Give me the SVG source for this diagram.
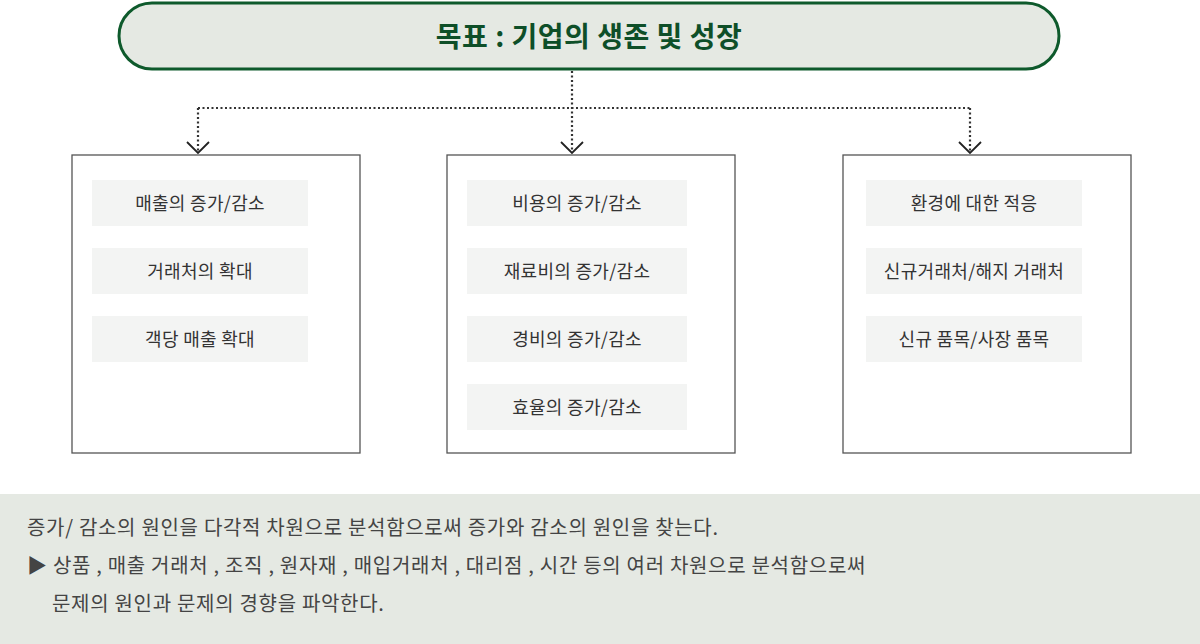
<svg xmlns="http://www.w3.org/2000/svg" width="1200" height="644" viewBox="0 0 1200 644">
<style>
text{font-family:"Noto Sans CJK KR","Noto Sans",sans-serif}
.box{fill:#fff;stroke:#555;stroke-width:1.3}
.item{fill:#f3f4f3}
.it{font-size:18px;fill:#333;text-anchor:middle;letter-spacing:0.3px}
.dot{fill:none;stroke:#333;stroke-width:2.2;stroke-dasharray:2 2.5}
.arr{fill:none;stroke:#222;stroke-width:1.8}
.bt{font-size:20px;fill:#444;letter-spacing:0.7px}
</style>
<rect x="0" y="494" width="1200" height="150" fill="#e5e9e3"/>
<g id="goal">
<rect x="119" y="3" width="940" height="66" rx="33" fill="#e5e9e3" stroke="#0e5a2c" stroke-width="3"/>
<text x="589" y="47" font-size="28" font-weight="bold" fill="#0e4f28" text-anchor="middle" letter-spacing="0.5">목표 : 기업의 생존 및 성장</text>
</g>
<g id="connectors">
<path class="dot" d="M572 71V152M198 108H970M198 108V152M970 108V152"/>
<path class="arr" d="M187 142L198 153L209 142M561 142L572 153L583 142M959 142L970 153L981 142"/>
</g>
<g id="col1">
<rect class="box" x="72" y="155" width="288" height="298"/>
<rect class="item" x="92" y="180" width="216" height="46"/><text class="it" x="200" y="210">매출의 증가/감소</text>
<rect class="item" x="92" y="248" width="216" height="46"/><text class="it" x="200" y="278">거래처의 확대</text>
<rect class="item" x="92" y="316" width="216" height="46"/><text class="it" x="200" y="346">객당 매출 확대</text>
</g>
<g id="col2">
<rect class="box" x="447" y="155" width="288" height="298"/>
<rect class="item" x="467" y="180" width="220" height="46"/><text class="it" x="577" y="210">비용의 증가/감소</text>
<rect class="item" x="467" y="248" width="220" height="46"/><text class="it" x="577" y="278">재료비의 증가/감소</text>
<rect class="item" x="467" y="316" width="220" height="46"/><text class="it" x="577" y="346">경비의 증가/감소</text>
<rect class="item" x="467" y="384" width="220" height="46"/><text class="it" x="577" y="414">효율의 증가/감소</text>
</g>
<g id="col3">
<rect class="box" x="843" y="155" width="288" height="298"/>
<rect class="item" x="866" y="180" width="216" height="46"/><text class="it" x="974" y="210">환경에 대한 적응</text>
<rect class="item" x="866" y="248" width="216" height="46"/><text class="it" x="974" y="278">신규거래처/해지 거래처</text>
<rect class="item" x="866" y="316" width="216" height="46"/><text class="it" x="974" y="346">신규 품목/사장 품목</text>
</g>
<g id="note">
<text class="bt" x="27" y="535">증가/ 감소의 원인을 다각적 차원으로 분석함으로써 증가와 감소의 원인을 찾는다.</text>
<text class="bt" x="27" y="573">▶ 상품 , 매출 거래처 , 조직 , 원자재 , 매입거래처 , 대리점 , 시간  등의 여러 차원으로 분석함으로써</text>
<text class="bt" x="52" y="611">문제의 원인과 문제의 경향을 파악한다.</text>
</g>
</svg>
